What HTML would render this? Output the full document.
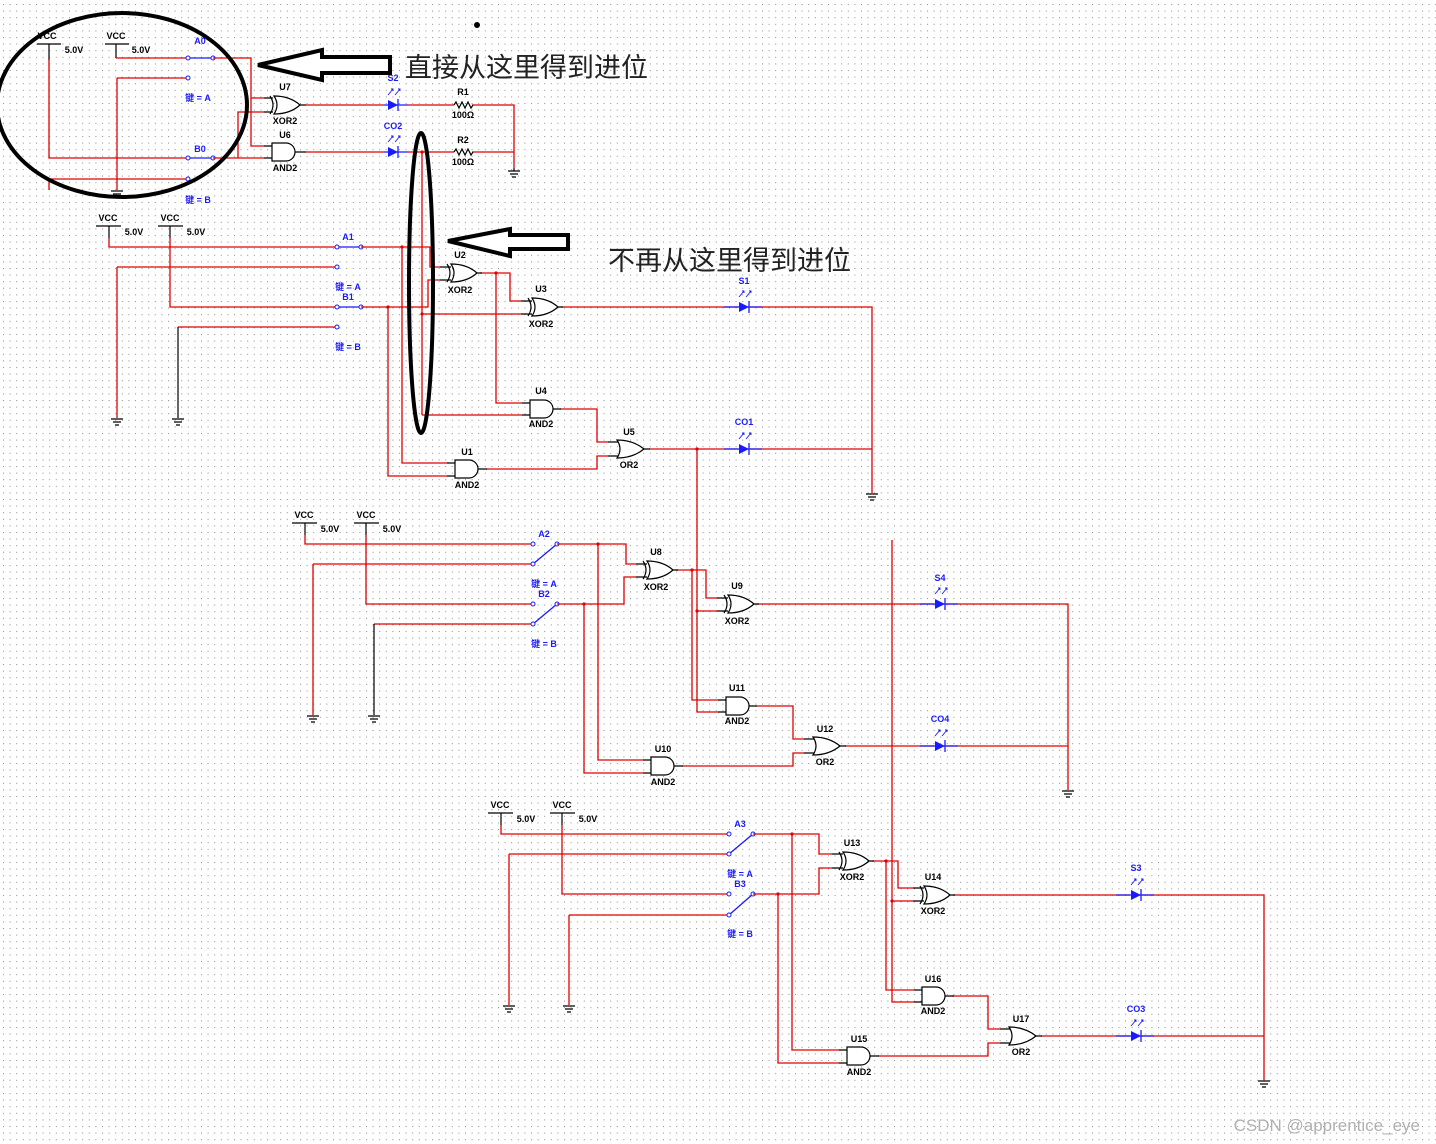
<!DOCTYPE html>
<html><head><meta charset="utf-8"><style>
html,body{margin:0;padding:0;background:#fff;}
svg{display:block;}
text{font-family:"Liberation Sans","Noto Sans CJK SC",sans-serif;}
.l{font-size:9px;font-weight:bold;fill:#000;text-anchor:middle;}
.b{font-size:9px;font-weight:bold;fill:#1a1aff;text-anchor:middle;}
.r{stroke:#e00000;stroke-width:1.3;fill:none;}
.k{stroke:#000;stroke-width:1.2;fill:none;}
.bl{stroke:#1a1aff;stroke-width:1.3;fill:none;}
.g{fill:#fff;stroke:#000;stroke-width:1.2;}
</style></head><body>
<svg width="1436" height="1144" viewBox="0 0 1436 1144" xmlns="http://www.w3.org/2000/svg">
<defs>
<pattern id="dots" x="3" y="4" width="6.6" height="6.6" patternUnits="userSpaceOnUse">
<rect x="0" y="0" width="1" height="1" fill="#8a8a8a"/>
</pattern>
</defs>
<rect width="1436" height="1144" fill="#fff"/>
<rect width="1436" height="1144" fill="url(#dots)"/>

<!-- ===== Top circuit ===== -->
<g>
<text x="47" y="39" class="l">VCC</text>
<path class="k" d="M37,44 H61 M49,44 V60"/>
<text x="74" y="53" class="l">5.0V</text>
<text x="116" y="39" class="l">VCC</text>
<path class="k" d="M105,44 H129 M116,44 V58"/>
<text x="141" y="53" class="l">5.0V</text>
<path class="r" d="M49,60 V158 H188"/>
<path class="r" d="M116,58 H188"/>
<path class="r" d="M117,78 H188 M117,78 V190"/>
<path class="r" d="M49,179 H188 M49,179 V190"/>
<path class="k" d="M111,191 H123 M113,194 H121 M115,197 H119"/>
<path class="bl" d="M188,58 H213 M188,158 H213"/>
<g fill="#fff" stroke="#1a1aff" stroke-width="1"><circle cx="188" cy="58" r="2"/><circle cx="213" cy="58" r="2"/><circle cx="188" cy="78" r="2"/><circle cx="188" cy="158" r="2"/><circle cx="213" cy="158" r="2"/><circle cx="188" cy="179" r="2"/></g>
<text x="200" y="44" class="b">A0</text>
<text x="198" y="101" class="b">键 = A</text>
<text x="200" y="152" class="b">B0</text>
<text x="198" y="203" class="b">键 = B</text>
<path class="r" d="M213,58 H251 V98 H264 M251,98 V146 H264"/>
<path class="r" d="M213,158 H238 V112 H264 M238,158 H264"/>
<path class="k" d="M264,98 H273 M264,112 H273"/>
<path class="g" d="M274,96 Q290,96 300,105 Q290,114 274,114 Q280,105 274,96 Z"/>
<path class="k" d="M270,96 Q276,105 270,114"/>
<text x="285" y="90" class="l">U7</text><text x="285" y="124" class="l">XOR2</text>
<path class="k" d="M264,146 H272 M264,158 H272"/>
<path class="g" d="M272,143 H286 A9,9 0 0 1 286,161 H272 Z"/>
<text x="285" y="138" class="l">U6</text><text x="285" y="171" class="l">AND2</text>
<path class="k" d="M300,105 H306 M295,152 H306"/>
<path class="r" d="M306,105 H384 M306,152 H384"/>
<path class="bl" d="M384,105 H408 M384,152 H408"/>
<path fill="#1a1aff" d="M388,100 L398,105 L388,110 Z M388,147 L398,152 L388,157 Z"/>
<path class="bl" d="M398,99 V111 M398,146 V158"/>
<path stroke="#1a1aff" stroke-width="0.9" fill="none" d="M388,95 L393,89 M391,89 H393 V91 M395,95 L400,89 M398,89 H400 V91 M388,142 L393,136 M391,136 H393 V138 M395,142 L400,136 M398,136 H400 V138"/>
<text x="393" y="81" class="b">S2</text><text x="393" y="129" class="b">CO2</text>
<path class="r" d="M408,105 H454 M472,105 H514 V168 M408,152 H454 M472,152 H514"/>
<path class="k" d="M454,105 l2,-3 l3,6 l3,-6 l3,6 l3,-6 l3,6 l2,-3 M454,152 l2,-3 l3,6 l3,-6 l3,6 l3,-6 l3,6 l2,-3"/>
<text x="463" y="95" class="l">R1</text><text x="463" y="118" class="l">100Ω</text>
<text x="463" y="143" class="l">R2</text><text x="463" y="165" class="l">100Ω</text>
<path class="k" d="M514,168 V171 M508,171 H520 M510,174 H518 M512,177 H516"/>
</g>

<!-- Stage 1 -->
<g>
<text x="108" y="221" class="l">VCC</text><path class="k" d="M96,226 H121 M109,226 V238"/><text x="134" y="235" class="l">5.0V</text>
<text x="170" y="221" class="l">VCC</text><path class="k" d="M158,226 H183 M170,226 V238"/><text x="196" y="235" class="l">5.0V</text>
<path class="r" d="M109,238 V247 H337"/>
<path class="r" d="M170,238 V307 H337"/>
<path class="r" d="M117,267 H337 M117,267 V418"/>
<path class="r" d="M178,327 H337"/><path class="k" d="M178,327 V418"/>
<path class="k" d="M111,419 H123 M113,422 H121 M115,425 H119 M172,419 H184 M174,422 H182 M176,425 H180"/>
<path class="bl" d="M337,247 H361 M337,307 H361"/>
<g fill="#fff" stroke="#1a1aff" stroke-width="1"><circle cx="337" cy="247" r="2"/><circle cx="361" cy="247" r="2"/><circle cx="337" cy="267" r="2"/><circle cx="337" cy="307" r="2"/><circle cx="361" cy="307" r="2"/><circle cx="337" cy="327" r="2"/></g>
<text x="348" y="240" class="b">A1</text><text x="348" y="290" class="b">键 = A</text><text x="348" y="300" class="b">B1</text><text x="348" y="350" class="b">键 = B</text>
<path class="r" d="M361,247 H430 V267 H440 M402,247 V463 H447 M361,307 H428 V280 H440 M388,307 V476 H447"/>
<path class="r" d="M480,273 H510 V301 H521 M496,273 V403 H522 M561,307 H738 M750,307 H872 V493 M560,409 H597 V442 H608 M486,469 H597 V456 H608 M649,449 H738 M750,449 H872"/>
<path class="k" d="M866,494 H878 M868,497 H876 M870,500 H874"/>
<path class="k" d="M440,267 H451 M440,280 H451 M476,273 H482"/>
<path class="g" d="M451,264 Q467,264 477,273 Q467,282 451,282 Q457,273 451,264 Z"/><path class="k" d="M447,264 Q453,273 447,282"/>
<text x="460" y="258" class="l">U2</text><text x="460" y="293" class="l">XOR2</text>
<path class="k" d="M521,301 H532 M521,314 H532 M557,307 H563"/>
<path class="g" d="M532,298 Q548,298 558,307 Q548,316 532,316 Q538,307 532,298 Z"/><path class="k" d="M528,298 Q534,307 528,316"/>
<text x="541" y="292" class="l">U3</text><text x="541" y="327" class="l">XOR2</text>
<path class="k" d="M522,403 H530 M522,415 H530 M553,409 H561"/>
<path class="g" d="M530,400 H544 A9,9 0 0 1 544,418 H530 Z"/>
<text x="541" y="394" class="l">U4</text><text x="541" y="427" class="l">AND2</text>
<path class="k" d="M447,463 H455 M447,476 H455 M478,469 H487"/>
<path class="g" d="M455,460 H469 A9,9 0 0 1 469,478 H455 Z"/>
<text x="467" y="455" class="l">U1</text><text x="467" y="488" class="l">AND2</text>
<path class="k" d="M608,442 H620 M608,456 H620 M643,449 H650"/>
<path class="g" d="M617,440 Q633,440 644,449 Q633,458 617,458 Q623,449 617,440 Z"/>
<text x="629" y="435" class="l">U5</text><text x="629" y="468" class="l">OR2</text>
<path class="bl" d="M724,307 H762 M724,449 H762"/>
<path fill="#1a1aff" d="M739,302 L749,307 L739,312 Z M739,444 L749,449 L739,454 Z"/>
<path class="bl" d="M749,301 V313 M749,443 V455"/>
<path stroke="#1a1aff" stroke-width="0.9" fill="none" d="M739,297 L744,291 M742,291 H744 V293 M746,297 L751,291 M749,291 H751 V293 M739,439 L744,433 M742,433 H744 V435 M746,439 L751,433 M749,433 H751 V435"/>
<text x="744" y="284" class="b">S1</text><text x="744" y="425" class="b">CO1</text>
</g>

<!-- Stage 2 -->
<g>
<text x="304" y="518" class="l">VCC</text><path class="k" d="M292,523 H317 M305,523 V535"/><text x="330" y="532" class="l">5.0V</text>
<text x="366" y="518" class="l">VCC</text><path class="k" d="M354,523 H379 M366,523 V535"/><text x="392" y="532" class="l">5.0V</text>
<path class="r" d="M305,535 V544 H533"/>
<path class="r" d="M366,535 V604 H533"/>
<path class="r" d="M313,564 H533 M313,564 V715"/>
<path class="r" d="M374,624 H533"/><path class="k" d="M374,624 V715"/>
<path class="k" d="M307,716 H319 M309,719 H317 M311,722 H315 M368,716 H380 M370,719 H378 M372,722 H376"/>
<path class="bl" d="M533,564 L557,544 M533,624 L557,604"/>
<g fill="#fff" stroke="#1a1aff" stroke-width="1"><circle cx="533" cy="544" r="2"/><circle cx="557" cy="544" r="2"/><circle cx="533" cy="564" r="2"/><circle cx="533" cy="604" r="2"/><circle cx="557" cy="604" r="2"/><circle cx="533" cy="624" r="2"/></g>
<text x="544" y="537" class="b">A2</text><text x="544" y="587" class="b">键 = A</text><text x="544" y="597" class="b">B2</text><text x="544" y="647" class="b">键 = B</text>
<path class="r" d="M557,544 H626 V564 H636 M598,544 V760 H643 M557,604 H624 V577 H636 M584,604 V773 H643"/>
<path class="r" d="M676,570 H706 V598 H717 M692,570 V700 H718 M757,604 H934 M946,604 H1068 V790 M756,706 H793 V739 H804 M682,766 H793 V753 H804 M845,746 H934 M946,746 H1068"/>
<path class="k" d="M1062,791 H1074 M1064,794 H1072 M1066,797 H1070"/>
<path class="k" d="M636,564 H647 M636,577 H647 M672,570 H678"/>
<path class="g" d="M647,561 Q663,561 673,570 Q663,579 647,579 Q653,570 647,561 Z"/><path class="k" d="M643,561 Q649,570 643,579"/>
<text x="656" y="555" class="l">U8</text><text x="656" y="590" class="l">XOR2</text>
<path class="k" d="M717,598 H728 M717,611 H728 M753,604 H759"/>
<path class="g" d="M728,595 Q744,595 754,604 Q744,613 728,613 Q734,604 728,595 Z"/><path class="k" d="M724,595 Q730,604 724,613"/>
<text x="737" y="589" class="l">U9</text><text x="737" y="624" class="l">XOR2</text>
<path class="k" d="M718,700 H726 M718,712 H726 M749,706 H757"/>
<path class="g" d="M726,697 H740 A9,9 0 0 1 740,715 H726 Z"/>
<text x="737" y="691" class="l">U11</text><text x="737" y="724" class="l">AND2</text>
<path class="k" d="M643,760 H651 M643,773 H651 M674,766 H683"/>
<path class="g" d="M651,757 H665 A9,9 0 0 1 665,775 H651 Z"/>
<text x="663" y="752" class="l">U10</text><text x="663" y="785" class="l">AND2</text>
<path class="k" d="M804,739 H816 M804,753 H816 M839,746 H846"/>
<path class="g" d="M813,737 Q829,737 840,746 Q829,755 813,755 Q819,746 813,737 Z"/>
<text x="825" y="732" class="l">U12</text><text x="825" y="765" class="l">OR2</text>
<path class="bl" d="M920,604 H958 M920,746 H958"/>
<path fill="#1a1aff" d="M935,599 L945,604 L935,609 Z M935,741 L945,746 L935,751 Z"/>
<path class="bl" d="M945,598 V610 M945,740 V752"/>
<path stroke="#1a1aff" stroke-width="0.9" fill="none" d="M935,594 L940,588 M938,588 H940 V590 M942,594 L947,588 M945,588 H947 V590 M935,736 L940,730 M938,730 H940 V732 M942,736 L947,730 M945,730 H947 V732"/>
<text x="940" y="581" class="b">S4</text><text x="940" y="722" class="b">CO4</text>
</g>

<!-- Stage 3 -->
<g>
<text x="500" y="808" class="l">VCC</text><path class="k" d="M488,813 H513 M501,813 V825"/><text x="526" y="822" class="l">5.0V</text>
<text x="562" y="808" class="l">VCC</text><path class="k" d="M550,813 H575 M562,813 V825"/><text x="588" y="822" class="l">5.0V</text>
<path class="r" d="M501,825 V834 H729"/>
<path class="r" d="M562,825 V894 H729"/>
<path class="r" d="M509,854 H729 M509,854 V1005"/>
<path class="r" d="M569,915 H729 M569,915 V1005"/>
<path class="k" d="M503,1006 H515 M505,1009 H513 M507,1012 H511 M563,1006 H575 M565,1009 H573 M567,1012 H571"/>
<path class="bl" d="M729,854 L753,834 M729,915 L753,894"/>
<g fill="#fff" stroke="#1a1aff" stroke-width="1"><circle cx="729" cy="834" r="2"/><circle cx="753" cy="834" r="2"/><circle cx="729" cy="854" r="2"/><circle cx="729" cy="894" r="2"/><circle cx="753" cy="894" r="2"/><circle cx="729" cy="915" r="2"/></g>
<text x="740" y="827" class="b">A3</text><text x="740" y="877" class="b">键 = A</text><text x="740" y="887" class="b">B3</text><text x="740" y="937" class="b">键 = B</text>
<path class="r" d="M753,834 H819 V854 H832 M792,834 V1050 H839 M753,894 H819 V868 H832 M778,894 V1063 H839"/>
<path class="r" d="M872,861 H898 V888 H913 M886,861 V990 H914 M953,895 H1130 M1142,895 H1264 V1080 M952,996 H988 V1029 H1000 M878,1056 H988 V1043 H1000 M1041,1036 H1130 M1142,1036 H1264"/>
<path class="k" d="M1258,1081 H1270 M1260,1084 H1268 M1262,1087 H1266"/>
<path class="k" d="M832,854 H843 M832,868 H843 M868,861 H874"/>
<path class="g" d="M843,852 Q859,852 869,861 Q859,870 843,870 Q849,861 843,852 Z"/><path class="k" d="M839,852 Q845,861 839,870"/>
<text x="852" y="846" class="l">U13</text><text x="852" y="880" class="l">XOR2</text>
<path class="k" d="M913,888 H924 M913,901 H924 M949,895 H955"/>
<path class="g" d="M924,886 Q940,886 950,895 Q940,904 924,904 Q930,895 924,886 Z"/><path class="k" d="M920,886 Q926,895 920,904"/>
<text x="933" y="880" class="l">U14</text><text x="933" y="914" class="l">XOR2</text>
<path class="k" d="M914,990 H922 M914,1002 H922 M945,996 H954"/>
<path class="g" d="M922,987 H936 A9,9 0 0 1 936,1005 H922 Z"/>
<text x="933" y="982" class="l">U16</text><text x="933" y="1014" class="l">AND2</text>
<path class="k" d="M839,1050 H847 M839,1063 H847 M870,1056 H879"/>
<path class="g" d="M847,1047 H861 A9,9 0 0 1 861,1065 H847 Z"/>
<text x="859" y="1042" class="l">U15</text><text x="859" y="1075" class="l">AND2</text>
<path class="k" d="M1000,1029 H1012 M1000,1043 H1012 M1035,1036 H1042"/>
<path class="g" d="M1009,1027 Q1025,1027 1036,1036 Q1025,1045 1009,1045 Q1015,1036 1009,1027 Z"/>
<text x="1021" y="1022" class="l">U17</text><text x="1021" y="1055" class="l">OR2</text>
<path class="bl" d="M1116,895 H1154 M1116,1036 H1154"/>
<path fill="#1a1aff" d="M1131,890 L1141,895 L1131,900 Z M1131,1031 L1141,1036 L1131,1041 Z"/>
<path class="bl" d="M1141,889 V901 M1141,1030 V1042"/>
<path stroke="#1a1aff" stroke-width="0.9" fill="none" d="M1131,885 L1136,879 M1134,879 H1136 V881 M1138,885 L1143,879 M1141,879 H1143 V881 M1131,1026 L1136,1020 M1134,1020 H1136 V1022 M1138,1026 L1143,1020 M1141,1020 H1143 V1022"/>
<text x="1136" y="871" class="b">S3</text><text x="1136" y="1012" class="b">CO3</text>
</g>

<!-- Carry lines -->
<path class="r" d="M422,152 V415 M422,314 H521 M422,415 H522"/>
<path class="r" d="M697,449 V712 H718 M697,611 H717"/>
<path class="r" d="M892,540 V1002 H914 M892,901 H913"/>
<g fill="#e00000"><circle cx="422" cy="152" r="1.6"/><circle cx="496" cy="273" r="1.6"/><circle cx="402" cy="247" r="1.6"/><circle cx="388" cy="307" r="1.6"/><circle cx="697" cy="449" r="1.6"/><circle cx="692" cy="570" r="1.6"/><circle cx="598" cy="544" r="1.6"/><circle cx="584" cy="604" r="1.6"/><circle cx="886" cy="861" r="1.6"/><circle cx="792" cy="834" r="1.6"/><circle cx="778" cy="894" r="1.6"/><circle cx="697" cy="611" r="1.6"/><circle cx="892" cy="901" r="1.6"/><circle cx="422" cy="314" r="1.6"/></g>

<!-- Annotations -->
<ellipse cx="122" cy="105" rx="125" ry="92" fill="none" stroke="#000" stroke-width="4"/>
<ellipse cx="421" cy="283" rx="12" ry="150" fill="none" stroke="#000" stroke-width="4"/>
<path d="M258,65 L322,50 V57 H390 V73 H322 V80 Z" fill="#fff" stroke="#000" stroke-width="4"/>
<path d="M448,241 L510,229 V235 H568 V249 H510 V256 Z" fill="#fff" stroke="#000" stroke-width="4"/>
<text x="405" y="77" style="font-size:27px;fill:#222;font-family:'Liberation Sans','Noto Sans CJK SC',sans-serif;">直接从这里得到进位</text>
<text x="608" y="270" style="font-size:27px;fill:#222;font-family:'Liberation Sans','Noto Sans CJK SC',sans-serif;">不再从这里得到进位</text>
<circle cx="477" cy="25" r="3" fill="#000"/>
<text x="1420" y="1131" text-anchor="end" style="font-size:17px;fill:#b0b0b0;">CSDN @apprentice_eye</text>
</svg>
</body></html>
